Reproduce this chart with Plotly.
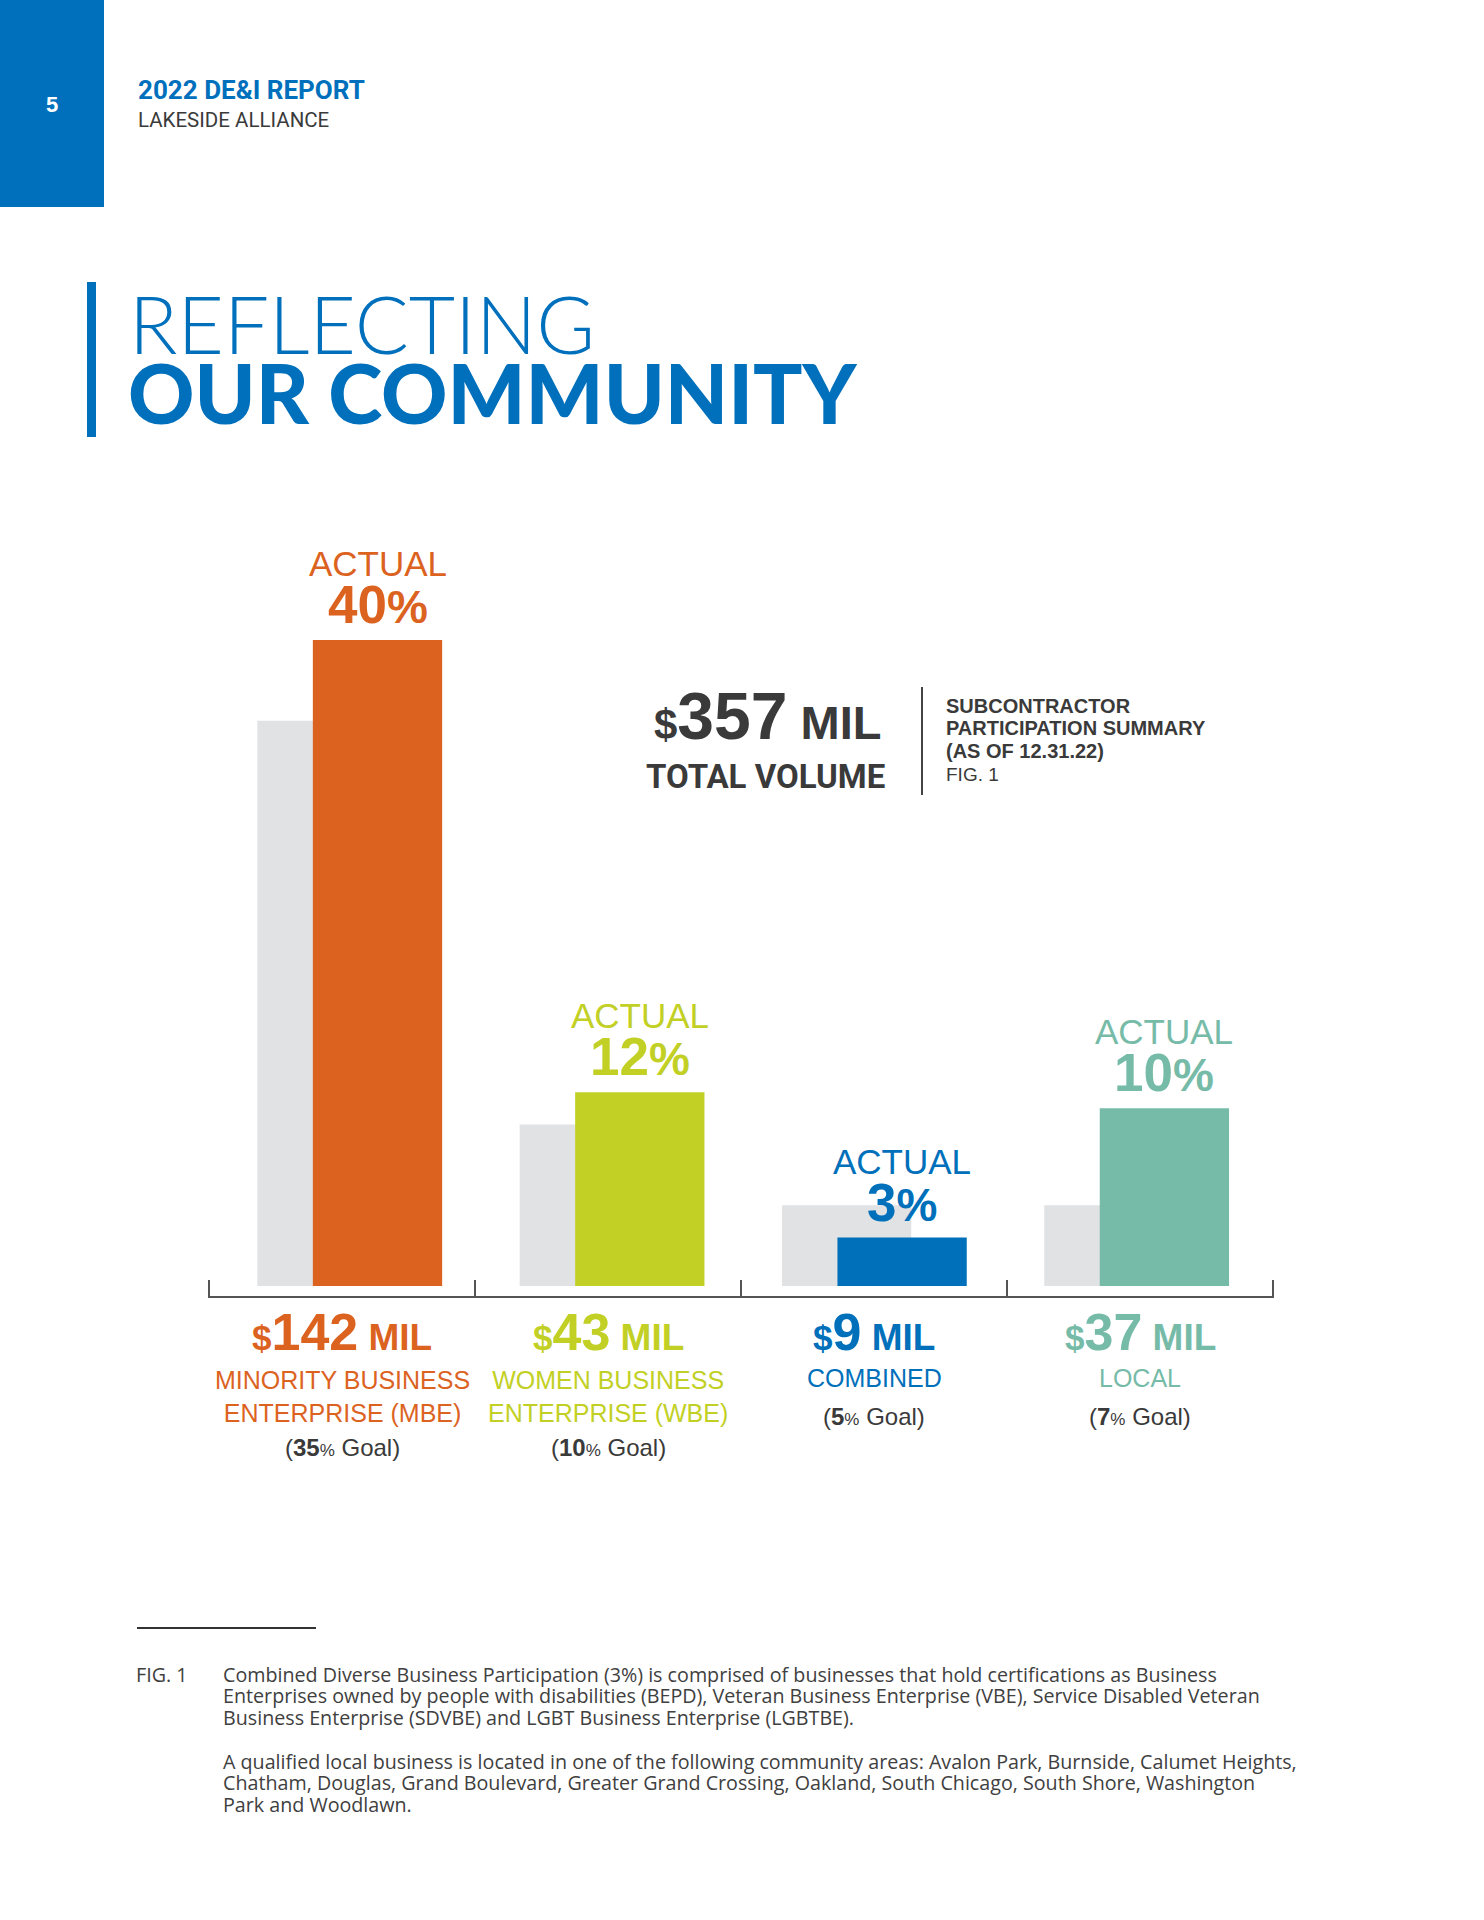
import plotly.graph_objects as go

# ---------------- data ----------------
categories = ["MINORITY BUSINESS<br>ENTERPRISE (MBE)", "WOMEN BUSINESS<br>ENTERPRISE (WBE)", "COMBINED", "LOCAL"]
actual_bar = [40, 12, 3, 11]      # drawn height of coloured bars (%)
goal_bar = [35, 10, 5, 5]         # drawn height of grey goal bars (%)
actual_label = [40, 12, 3, 10]    # printed "ACTUAL" percentages
goal_label = [35, 10, 5, 7]       # printed goal percentages
dollars_mil = [142, 43, 9, 37]
total_mil = 357
bar_colors = ["#DC631F", "#C2D025", "#0070BB", "#76BBA8"]
goal_color = "#E1E2E4"

footnote_p1 = [
    "Combined Diverse Business Participation (3%) is comprised of businesses that hold certifications as Business",
    "Enterprises owned by people with disabilities (BEPD), Veteran Business Enterprise (VBE), Service Disabled Veteran",
    "Business Enterprise (SDVBE) and LGBT Business Enterprise (LGBTBE).",
]
footnote_p2 = [
    "A qualified local business is located in one of the following community areas: Avalon Park, Burnside, Calumet Heights,",
    "Chatham, Douglas, Grand Boulevard, Greater Grand Crossing, Oakland, South Chicago, South Shore, Washington",
    "Park and Woodlawn.",
]

# ---------------- layout helpers ----------------
W, H = 1484, 1920
BLUE = "#0070BC"
DARK = "#3A3A3A"


def px(x):
    return x / W


def py(y):
    return 1 - y / H


UNIT = 262.3          # px per category
X0PX = 349.7          # px of category 0 centre (pair centre)
tick_px = [209, 475, 741, 1007, 1273]
tickvals = [(t - X0PX) / UNIT for t in tick_px]
EPS = 0.004
BAR_W = 129.3 / UNIT
GOAL_OFF = -92.35 / UNIT
ACT_OFF = GOAL_OFF + 55.5 / UNIT

PPU = 16.15           # px per percent
BASE_PX = 1286
AXIS_PX = 1296
TOP_PX = 560
y_range = [-(AXIS_PX - BASE_PX) / PPU, (BASE_PX - TOP_PX) / PPU]

xs = list(range(len(categories)))

fig = go.Figure()
fig.add_trace(go.Bar(x=xs, y=goal_bar, width=[BAR_W] * 4, offset=GOAL_OFF,
                     marker=dict(color=goal_color, line=dict(width=0)), hoverinfo="skip"))
fig.add_trace(go.Bar(x=xs, y=actual_bar, width=[BAR_W] * 4, offset=ACT_OFF,
                     marker=dict(color=bar_colors, line=dict(width=0)), hoverinfo="skip"))

ann = []
shapes = []

# header block
shapes.append(dict(type="rect", xref="paper", yref="paper", x0=0, x1=px(104), y0=py(207), y1=1,
                   fillcolor=BLUE, line=dict(width=0), layer="below"))
ann.append(dict(text="5", x=px(52), y=py(104), font=dict(family="Liberation Sans", size=22, color="white", weight=700)))
ann.append(dict(text="2022 DE&I REPORT", x=px(136), y=py(90), xanchor="left",
                font=dict(family="Roboto", size=26, color=BLUE, weight=700)))
ann.append(dict(text="LAKESIDE ALLIANCE", x=px(136), y=py(120), xanchor="left",
                font=dict(family="Roboto", size=20.5, color=DARK)))

# title
shapes.append(dict(type="rect", xref="paper", yref="paper", x0=px(87), x1=px(96), y0=py(437), y1=py(282),
                   fillcolor=BLUE, line=dict(width=0)))
ann.append(dict(text="REFLECTING", x=px(127), y=py(323), xanchor="left", height=70,
                font=dict(family="Lato", size=80, color=BLUE, weight=300)))
ann.append(dict(text="OUR COMMUNITY", x=px(126), y=py(392), xanchor="left", height=66,
                font=dict(family="Lato", size=82, color=BLUE, weight=900)))

# labels above bars
for i in xs:
    cx = i + ACT_OFF + BAR_W / 2
    c = bar_colors[i]
    ann.append(dict(text=f"{actual_label[i]}<span style='font-size:46px'>%</span>", x=cx, y=actual_bar[i],
                    xref="x", yref="y", yanchor="bottom", yshift=4,
                    font=dict(family="Liberation Sans", size=53, color=c, weight=700)))
    ann.append(dict(text="ACTUAL", x=cx, y=actual_bar[i], xref="x", yref="y", yanchor="bottom", yshift=55,
                    font=dict(family="Liberation Sans", size=35, color=c)))

# labels below axis
for i in xs:
    cx = (tickvals[i] + tickvals[i + 1]) / 2
    c = bar_colors[i]
    ann.append(dict(text=f"<span style='font-size:35px'>$</span>{dollars_mil[i]}<span style='font-size:37px'> MIL</span>",
                    x=cx, y=py(1332), xref="x", yref="paper",
                    font=dict(family="Liberation Sans", size=52, color=c, weight=700)))
    two = "<br>" in categories[i]
    ann.append(dict(text=categories[i], x=cx, y=py(1396 if two else 1378), xref="x", yref="paper",
                    font=dict(family="Liberation Sans", size=25, color=c)))
    ann.append(dict(text=f"(<b>{goal_label[i]}</b><span style='font-size:17px'>%</span> Goal)",
                    x=cx, y=py(1447 if two else 1416), xref="x", yref="paper",
                    font=dict(family="Liberation Sans", size=24, color=DARK)))

# total block
ann.append(dict(text=f"<span style='font-size:42px'>$</span>{total_mil}<span style='font-size:47px'> MIL</span>",
                x=px(767), y=py(716), font=dict(family="Liberation Sans", size=66, color=DARK, weight=700)))
ann.append(dict(text="TOTAL VOLUME", x=px(766), y=py(776),
                font=dict(family="Roboto", size=33, color=DARK, weight=700)))
shapes.append(dict(type="line", xref="paper", yref="paper", x0=px(922), x1=px(922), y0=py(687), y1=py(795),
                   line=dict(color="#444444", width=2)))
right_lines = ["SUBCONTRACTOR", "PARTICIPATION SUMMARY", "(AS OF 12.31.22)"]
for k, (t, yy) in enumerate(zip(right_lines, [706, 728, 751])):
    ann.append(dict(text=t, x=px(944), y=py(yy), xanchor="left",
                    font=dict(family="Liberation Sans", size=20, color=DARK, weight=700)))
ann.append(dict(text="FIG. 1", x=px(944), y=py(775), xanchor="left",
                font=dict(family="Liberation Sans", size=19, color=DARK)))

# footnote
shapes.append(dict(type="line", xref="paper", yref="paper", x0=px(137), x1=px(316), y0=py(1628), y1=py(1628),
                   line=dict(color="#333333", width=2)))
FOOT_FONT = dict(family="Open Sans", size=19.7, color="#404040")
ann.append(dict(text="FIG. 1", x=px(134), y=py(1674), xanchor="left", font=FOOT_FONT))
for j, line in enumerate(footnote_p1):
    ann.append(dict(text=line, x=px(221), y=py(1674 + 21.7 * j), xanchor="left", font=FOOT_FONT))
for j, line in enumerate(footnote_p2):
    ann.append(dict(text=line, x=px(221), y=py(1761 + 21.7 * j), xanchor="left", font=FOOT_FONT))

for a in ann:
    a.setdefault("xref", "paper")
    a.setdefault("yref", "paper")
    a.setdefault("xanchor", "center")
    a.setdefault("yanchor", "middle")
    a["showarrow"] = False

fig.update_layout(
    width=W, height=H,
    margin=dict(l=0, r=0, t=0, b=0),
    paper_bgcolor="white", plot_bgcolor="white",
    barmode="overlay", showlegend=False,
    annotations=ann, shapes=shapes,
    xaxis=dict(domain=[px(tick_px[0] - EPS * UNIT), px(tick_px[-1] + EPS * UNIT)],
               range=[tickvals[0] - EPS, tickvals[-1] + EPS],
               tickmode="array", tickvals=tickvals, showticklabels=False,
               ticks="inside", ticklen=16, tickwidth=1.5, tickcolor="#555555",
               showline=True, linecolor="#555555", linewidth=2, showgrid=False, zeroline=False,
               fixedrange=True),
    yaxis=dict(domain=[py(AXIS_PX), py(TOP_PX)], range=y_range, visible=False, fixedrange=True),
)

fig.write_html("out.html", config={"displayModeBar": False},
               post_script="document.body.style.margin='0';")
